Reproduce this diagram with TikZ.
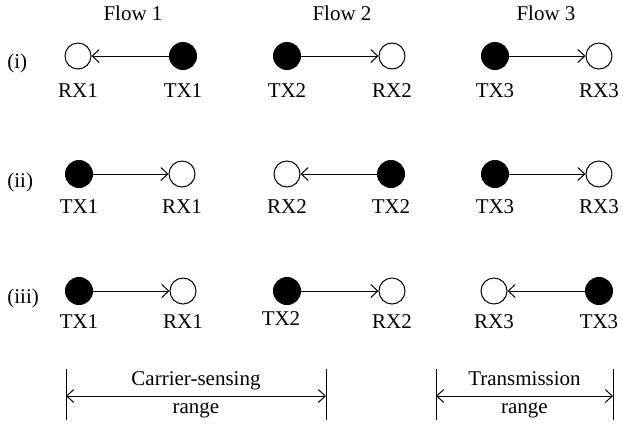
\documentclass[tikz,border=0pt]{standalone}
\usepackage{fontspec}
\setmainfont{Liberation Serif}
\usetikzlibrary{arrows.meta}
\begin{document}
\begin{tikzpicture}[x=0.5pt,y=-0.5pt,
  every node/.style={font=\fontsize{10.5}{12}\selectfont},
  txnode/.style={circle,draw=black,fill=black,line width=0.5pt,minimum size=13.5pt,inner sep=0pt},
  rxnode/.style={circle,draw=black,fill=white,line width=0.5pt,minimum size=13pt,inner sep=0pt},
  lbl/.style={anchor=base,inner sep=0pt},
  link/.style={line width=0.5pt,-{Straight Barb[length=3.5pt,width=6.5pt]}},
  bar/.style={line width=0.5pt},
  dim/.style={line width=0.5pt,{Straight Barb[length=3.5pt,width=6.5pt]}-{Straight Barb[length=3.5pt,width=6.5pt]}}
]
\useasboundingbox (0,0) rectangle (623,425);
% flow titles
\node[lbl] (f1) at (133,20) {Flow 1};
\node[lbl] (f2) at (342,20) {Flow 2};
\node[lbl] (f3) at (546,20) {Flow 3};
% row labels
\node[anchor=west,inner sep=0pt] (ri) at (7,63) {(i)};
\node[anchor=west,inner sep=0pt] (rii) at (7,182) {(ii)};
\node[anchor=west,inner sep=0pt] (riii) at (7,298) {(iii)};
% row i
\node[rxnode] (a1) at (78,56) {};
\node[txnode] (a2) at (183,56) {};
\node[txnode] (a3) at (287,56) {};
\node[rxnode] (a4) at (392,56) {};
\node[txnode] (a5) at (495,56) {};
\node[rxnode] (a6) at (599,56) {};
\draw[link] (a2) -- (a1);
\draw[link] (a3) -- (a4);
\draw[link] (a5) -- (a6);
\node[lbl] (la1) at (78,97) {RX1};
\node[lbl] (la2) at (183,97) {TX1};
\node[lbl] (la3) at (287,97) {TX2};
\node[lbl] (la4) at (392,97) {RX2};
\node[lbl] (la5) at (495,97) {TX3};
\node[lbl] (la6) at (599,97) {RX3};
% row ii
\node[txnode] (b1) at (79,174) {};
\node[rxnode] (b2) at (182,174) {};
\node[rxnode] (b3) at (287,174) {};
\node[txnode] (b4) at (391,174) {};
\node[txnode] (b5) at (495,174) {};
\node[rxnode] (b6) at (599,174) {};
\draw[link] (b1) -- (b2);
\draw[link] (b4) -- (b3);
\draw[link] (b5) -- (b6);
\node[lbl] (lb1) at (79,213) {TX1};
\node[lbl] (lb2) at (182,213) {RX1};
\node[lbl] (lb3) at (287,213) {RX2};
\node[lbl] (lb4) at (391,213) {TX2};
\node[lbl] (lb5) at (495,213) {TX3};
\node[lbl] (lb6) at (599,213) {RX3};
% row iii
\node[txnode] (c1) at (79,291) {};
\node[rxnode] (c2) at (183,291) {};
\node[txnode] (c3) at (287,291) {};
\node[rxnode] (c4) at (392,291) {};
\node[rxnode] (c5) at (494,291) {};
\node[txnode] (c6) at (599,291) {};
\draw[link] (c1) -- (c2);
\draw[link] (c3) -- (c4);
\draw[link] (c6) -- (c5);
\node[lbl] (lc1) at (79,328) {TX1};
\node[lbl] (lc2) at (183,328) {RX1};
\node[lbl] (lc3) at (281,325) {TX2};
\node[lbl] (lc4) at (392,328) {RX2};
\node[lbl] (lc5) at (494,328) {RX3};
\node[lbl] (lc6) at (599,328) {TX3};
% ranges
\coordinate (cs1t) at (66,369); \coordinate (cs1b) at (66,420);
\coordinate (cs2t) at (326,369); \coordinate (cs2b) at (326,420);
\draw[bar] (cs1t) -- (cs1b);
\draw[bar] (cs2t) -- (cs2b);
\coordinate (csl) at (66,396); \coordinate (csr) at (326,396);
\draw[dim] (csl) -- (csr);
\node[lbl] (cst) at (196,385) {Carrier-sensing};
\node[lbl] (csb) at (196,413) {range};
\coordinate (tr1t) at (436,369); \coordinate (tr1b) at (436,420);
\coordinate (tr2t) at (613,369); \coordinate (tr2b) at (613,420);
\draw[bar] (tr1t) -- (tr1b);
\draw[bar] (tr2t) -- (tr2b);
\coordinate (trl) at (436,396); \coordinate (trr) at (613,396);
\draw[dim] (trl) -- (trr);
\node[lbl] (trt) at (524.5,385) {Transmission};
\node[lbl] (trb) at (524.5,413) {range};
\end{tikzpicture}
\end{document}
